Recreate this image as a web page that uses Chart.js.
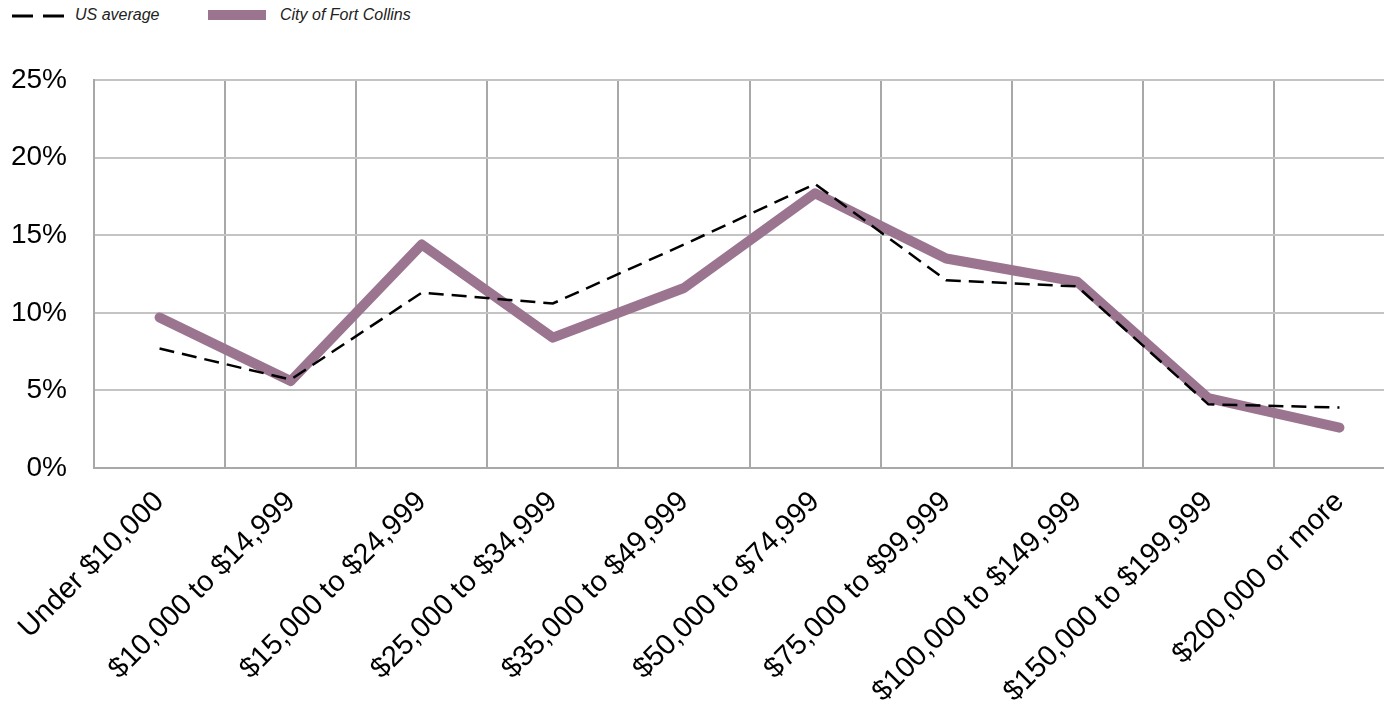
<!DOCTYPE html>
<html>
<head>
<meta charset="utf-8">
<script src="https://cdn.jsdelivr.net/npm/chart.js@4"></script>
<style>
  html, body { margin: 0; padding: 0; background: #fff; }
  body { width: 1384px; height: 707px; overflow: hidden; position: relative; font-family: "Liberation Sans", Arial, sans-serif; }
  .leg { position: absolute; top: 5px; font-size: 16px; font-style: italic; color: #222; line-height: 20px; }
  .leg svg { position: absolute; top: 0; }
  #wrap { position: absolute; left: 0; top: 0; width: 1405px; height: 707px; }
</style>
</head>
<body>
<div class="leg" style="left: 12px;">
  <svg width="54" height="20"><line x1="0" y1="11" x2="54" y2="11" stroke="#000" stroke-width="3" stroke-dasharray="21 10"/></svg>
  <span style="margin-left: 63px;">US average</span>
</div>
<div class="leg" style="left: 208px;">
  <svg width="58" height="20"><rect x="0" y="5" width="58" height="10" fill="#9b7590"/></svg>
  <span style="margin-left: 72px;">City of Fort Collins</span>
</div>
<div id="wrap"><canvas id="chart"></canvas></div>
<script>
// categorias de renda
const categories = [
    "Under $10,000", "$10,000 to $14,999", "$15,000 to $24,999", "$25,000 to $34,999",
    "$35,000 to $49,999", "$50,000 to $74,999", "$75,000 to $99,999",
    "$100,000 to $149,999", "$150,000 to $199,999", "$200,000 or more"
];
const usAverage = [7.7, 5.7, 11.3, 10.6, 14.4, 18.3, 12.1, 11.7, 4.1, 3.9];
const fortCollins = [9.7, 5.6, 14.4, 8.4, 11.6, 17.7, 13.5, 12.0, 4.5, 2.6];
const yTicks = [0, 5, 10, 15, 20, 25];

const ctx = document.getElementById('chart').getContext('2d');
new Chart(ctx, {
    type: 'line',
    data: {
        labels: categories,
        datasets: [
            {
                label: 'City of Fort Collins',
                data: fortCollins,
                borderColor: '#9b7590',
                borderWidth: 10,
                borderCapStyle: 'round',
                borderJoinStyle: 'round',
                pointRadius: 0,
                tension: 0,
                order: 2
            },
            {
                label: 'US average',
                data: usAverage,
                borderColor: '#000',
                borderWidth: 2.5,
                borderDash: [15, 8],
                pointRadius: 0,
                tension: 0,
                order: 1
            }
        ]
    },
    options: {
        responsive: true,
        maintainAspectRatio: false,
        animation: false,
        layout: { padding: { left: 12, top: 80, right: 0, bottom: 0 } },
        plugins: {
            legend: { display: false },
            tooltip: { enabled: false }
        },
        scales: {
            x: {
                offset: true,
                grid: { offset: true, color: '#a8a8a8', lineWidth: 2, drawTicks: false },
                border: { color: '#a8a8a8', width: 2 },
                ticks: {
                    color: '#000',
                    font: { family: 'Liberation Sans', size: 29 },
                    minRotation: 45,
                    maxRotation: 45,
                    padding: 17
                },
                // os rótulos inclinados cabem sem espaço extra
                afterFit: (s) => { s.paddingLeft = 0; s.paddingRight = 0; s.height = 239; }
            },
            y: {
                min: 0,
                max: 25,
                afterBuildTicks: (axis) => { axis.ticks = yTicks.map(v => ({ value: v })); },
                grid: { color: '#c4c4c4', lineWidth: 2, drawTicks: false },
                border: { color: '#a8a8a8', width: 2 },
                ticks: {
                    color: '#000',
                    font: { family: 'Liberation Sans', size: 28 },
                    padding: 27,
                    callback: (v) => v + '%'
                },
                afterFit: (s) => { s.width = 82; s.paddingTop = 0; s.paddingBottom = 0; }
            }
        }
    }
});
</script>
</body>
</html>
